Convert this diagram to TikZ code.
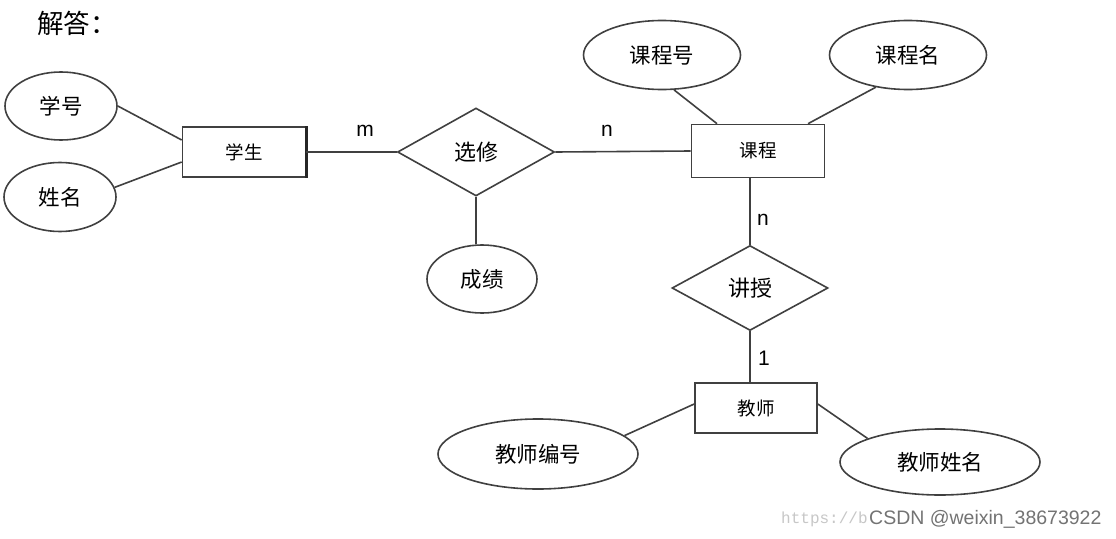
\documentclass[tikz,border=0pt]{standalone}
\usepackage{fontspec}
\setmainfont{Liberation Sans}
\newfontfamily\cjk{Noto Sans CJK SC}
\newfontfamily\lsans{Liberation Sans}
\newfontfamily\lmono{Liberation Mono}
\usetikzlibrary{shapes.geometric}
\begin{document}
\begin{tikzpicture}[x=1pt,y=-1pt,
  ln/.style={draw=black!75,line width=1.6pt},
  attr/.style={ellipse,ln,inner sep=0pt,font=\cjk\fontsize{21.5}{24}\selectfont},
  ent/.style={rectangle,ln,inner sep=0pt,font=\cjk\fontsize{18.5}{22}\selectfont},
  rel/.style={diamond,ln,inner sep=0pt,font=\cjk\fontsize{22}{24}\selectfont},
  card/.style={inner sep=0pt,font=\lsans\fontsize{21}{24}\selectfont}]
\useasboundingbox[fill=white] (0,0) rectangle (1116,538);
% title
\node[anchor=west,inner sep=0pt,font=\cjk\fontsize{26.5}{30}\selectfont] (title) at (37,23) {解答：};
% entities
\node[ent,minimum width=123pt,minimum height=50pt] (xs) at (244,152) {学生};
\node[ent,minimum width=133pt,minimum height=53pt] (kc) at (758,151) {课程};
\node[ent,minimum width=122pt,minimum height=50pt] (t) at (756,408) {教师};
\draw[draw=black!85,line width=3pt] (xs.north east) -- (xs.south east);
% relations
\node[rel,minimum width=157pt,minimum height=88pt] (xx) at (476,152) {选修};
\node[rel,minimum width=156pt,minimum height=85pt] (js) at (750,288) {讲授};
% attributes
\node[attr,minimum width=112pt,minimum height=68pt] (xh) at (61,106) {学号};
\node[attr,minimum width=112pt,minimum height=69pt] (xm) at (60,197) {姓名};
\node[attr,minimum width=110pt,minimum height=68pt] (cj) at (482,279) {成绩};
\node[attr,minimum width=157pt,minimum height=69pt] (kh) at (662,55) {课程号};
\node[attr,minimum width=157pt,minimum height=69pt] (km) at (908,55) {课程名};
\node[attr,minimum width=200pt,minimum height=70pt] (tb) at (538,454) {教师编号};
\node[attr,minimum width=200pt,minimum height=66pt] (tn) at (940,462) {教师姓名};
% connectors
\draw[ln] (xh.east) -- ([yshift=12pt]xs.west);
\draw[ln] (xm.10) -- ([yshift=-10pt]xs.west);
\draw[ln] (xs.east) -- (xx.west);
\draw[ln] (xx.south) -- (xx.south |- cj.north);
\draw[ln] (xx.east) -- (kc.west);
\draw[ln] (kh.-71) -- ([xshift=-41pt]kc.north);
\draw[ln] (km.-135) -- ([xshift=50pt]kc.north);
\draw[ln] (js.north |- kc.south) -- (js.north);
\draw[ln] (js.south) -- (js.south |- t.north);
\draw[ln] ([yshift=4pt]t.west) -- (tb.12);
\draw[ln] ([yshift=4pt]t.east) -- (tn.162);
% cardinalities
\node[card] (cm) at (365,131) {m};
\node[card] (cn1) at (607,131) {n};
\node[card] (cn2) at (763,220) {n};
\node[card] (c1) at (764,358) {1};
% watermark
\node[anchor=west,inner sep=0pt,text=black!22,font=\lmono\fontsize{16}{20}\selectfont] (wm1) at (781,519) {https://b};
\node[anchor=west,inner sep=0pt,text=black!55,font=\lsans\fontsize{19.5}{22}\selectfont] (wm2) at (869,519) {CSDN @weixin\_38673922};
\end{tikzpicture}
\end{document}
